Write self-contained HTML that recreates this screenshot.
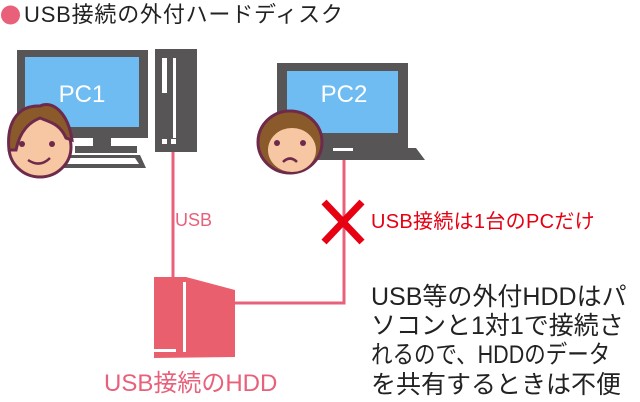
<!DOCTYPE html>
<html><head><meta charset="utf-8"><style>
body{margin:0;width:640px;height:402px;background:#fff;position:relative;overflow:hidden;font-family:"Liberation Sans","Noto Sans CJK JP",sans-serif}
.t{position:absolute;white-space:nowrap;line-height:1}
.b{position:absolute;left:371px;font-size:25px;color:#222;white-space:nowrap;line-height:1;transform-origin:0 0}
</style></head><body>
<svg width="640" height="402" style="position:absolute;left:0;top:0">
<circle cx="10.5" cy="15" r="9.5" fill="#e8607a"/>
<!-- PC1 -->
<rect x="17" y="50" width="131" height="88" fill="#575555"/>
<rect x="25" y="57" width="114" height="70" fill="#6ebcf2"/>
<rect x="93" y="137" width="18" height="10" fill="#575555"/>
<rect x="75" y="146" width="62" height="7" fill="#575555"/>
<polygon points="62,155 140,155 146,168 60,168" fill="#575555"/>
<polygon points="66,158 135,158 139,164 64,164" fill="#fff"/>
<rect x="155" y="49" width="42" height="103" fill="#575555"/>
<rect x="162" y="58" width="5" height="35" fill="#fff"/>
<rect x="173" y="58" width="3" height="80" fill="#fff"/>
<rect x="162" y="139" width="5" height="5" fill="#fff"/><rect x="171" y="139" width="5" height="5" fill="#fff"/>
<text x="82" y="102" font-size="24" fill="#fff" text-anchor="middle" font-family="Liberation Sans">PC1</text>
<!-- face1 -->
<ellipse cx="40" cy="147" rx="31" ry="30" fill="#f7c7a4" stroke="#6e2a4a" stroke-width="3"/>
<path d="M9,150 C6,120 20,105 40,106 C52,100 68,112 72,140 L66,138 C60,124 50,122 40,118 C30,122 20,130 16,150Z" fill="#8a5a2b" stroke="#6e2a4a" stroke-width="3"/>
<circle cx="22" cy="144" r="3" fill="#6e2a4a"/><circle cx="52" cy="144" r="3" fill="#6e2a4a"/>
<path d="M28,160 Q40,168 50,158" stroke="#6e2a4a" stroke-width="2.5" fill="none"/>
<!-- PC2 -->
<rect x="277" y="63" width="131" height="87" fill="#575555"/>
<rect x="287" y="71" width="111" height="62" fill="#6ebcf2"/>
<polygon points="268,148 416,148 425,160 268,160" fill="#575555"/>
<rect x="333" y="148" width="20" height="3" fill="#fff"/>
<text x="344" y="102" font-size="24" fill="#fff" text-anchor="middle" font-family="Liberation Sans">PC2</text>
<!-- face2 -->
<ellipse cx="290" cy="142" rx="32" ry="31" fill="#8a5a2b" stroke="#6e2a4a" stroke-width="3"/>
<ellipse cx="292" cy="150" rx="24" ry="22" fill="#f7c7a4"/>
<circle cx="277" cy="143" r="3" fill="#6e2a4a"/><circle cx="303" cy="143" r="3" fill="#6e2a4a"/>
<path d="M283,162 Q290,155 297,162" stroke="#6e2a4a" stroke-width="2.5" fill="none"/>
<!-- cables -->
<line x1="173" y1="152" x2="173" y2="282" stroke="#e8607a" stroke-width="3"/>
<polyline points="344,160 344,303 234,303" stroke="#e8607a" stroke-width="3" fill="none"/>
<!-- X -->
<line x1="324" y1="202" x2="362" y2="242" stroke="#e60012" stroke-width="7"/>
<line x1="362" y1="202" x2="324" y2="242" stroke="#e60012" stroke-width="7"/>
<!-- HDD -->
<polygon points="154,277 186,277 235,290 235,357 154,358" fill="#ea5f6d"/>
<rect x="183" y="282" width="3" height="70" fill="#fff"/>
<rect x="154" y="349" width="22" height="3" fill="#fff"/>
</svg>
<div class="t" style="left:24px;top:4px;font-size:22px;color:#222;letter-spacing:0.8px">USB接続の外付ハードディスク</div>
<div class="t" style="left:175px;top:211px;font-size:18px;color:#e8607a">USB</div>
<div class="t" style="left:371px;top:212px;font-size:20px;color:#e60012;letter-spacing:0.3px">USB接続は1台のPCだけ</div>
<div class="t" style="left:104px;top:372px;font-size:24px;color:#e8607a">USB接続のHDD</div>
<div class="b" style="top:285px">USB等の外付HDDはパ</div>
<div class="b" style="top:314px">ソコンと1対1で接続さ</div>
<div class="b" style="top:343px;transform:scaleX(0.86)">れるので、HDDのデータ</div>
<div class="b" style="top:373px">を共有するときは不便</div>
</body></html>
